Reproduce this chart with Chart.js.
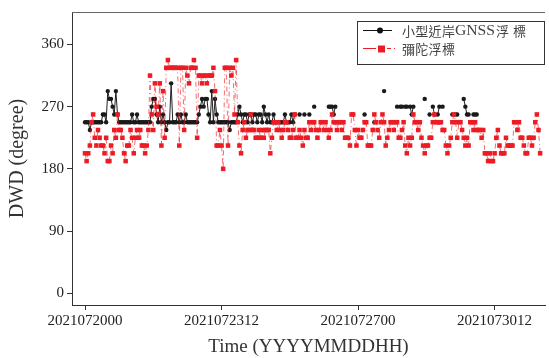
<!DOCTYPE html>
<html>
<head>
<meta charset="utf-8">
<script src="https://cdn.jsdelivr.net/npm/chart.js@4.4.0/dist/chart.umd.min.js"></script>
<style>
  html, body { margin: 0; padding: 0; background: #fff; }
  #wrap { width: 549px; height: 358px; }
</style>
</head>
<body>
<div id="wrap"><canvas id="myChart" width="549" height="358"></canvas></div>
<script>
// hours since 2021072000 -> tick labels
const tickHours = [0, 84, 168, 252];
const tickLabels = ['2021072000', '2021072312', '2021072700', '2021073012'];
const yTicks = [0, 90, 180, 270, 360];

// 小型近岸GNSS浮標, hourly wave direction (degree), null = no record
const gnssDwd = [
  247.5, 247.5, 247.5, 236.25, 247.5, 247.5, 247.5, 247.5, 247.5, 247.5, 247.5,
  258.75, 258.75, 247.5, 292.5, 281.25, 281.25, 270, 258.75, 292.5, 258.75,
  247.5, 247.5, 247.5, 247.5, 247.5, 247.5, 247.5, 247.5, 258.75, 247.5,
  247.5, 258.75, 247.5, 247.5, 247.5, 247.5, 247.5, 247.5, 247.5, 247.5,
  270, 281.25, 281.25, 258.75, 247.5, 270, 247.5, 258.75, 247.5, 236.25,
  247.5, 247.5, 303.75, 247.5, 247.5, 247.5, 258.75, 247.5, 258.75, 247.5,
  247.5, 258.75, 247.5, 247.5, 247.5, 247.5, 247.5, 247.5, 247.5, 258.75,
  270, 281.25, 270, 281.25, 281.25, 258.75, 247.5, 292.5, 247.5, 281.25,
  258.75, 247.5, 247.5, 247.5, 247.5, 247.5, 247.5, 247.5, 236.25, 247.5,
  247.5, 247.5, 247.5, 258.75, 270, 258.75, 247.5, 258.75, 258.75, 247.5,
  258.75, 258.75, 247.5, 258.75, 258.75, 247.5, 258.75, 258.75, 247.5, 270,
  258.75, 247.5, 258.75, 247.5, 247.5, 258.75, 247.5, 247.5, 247.5, 247.5,
  247.5, 247.5, 258.75, 247.5, 247.5, 247.5, 258.75, 247.5, 258.75, null,
  null, 258.75, null, null, 258.75, null, null, 258.75, null, null,
  270, null, null, null, null, null, null, null, null, 270,
  270, 270, 258.75, 270, null, null, null, null, null, null,
  null, null, null, null, null, null, null, null, null, null,
  null, 258.75, null, null, null, null, null, 247.5, null, null,
  null, null, null, 292.5, null, null, null, null, null, null,
  null, 270, null, 270, 270, null, 270, 270, null, 270,
  258.75, 270, null, null, null, null, null, null, 281.25, null,
  null, 258.75, null, 270, 258.75, null, 258.75, 270, null, 270,
  null, null, null, null, null, 258.75, null, 258.75, 258.75, null,
  null, null, 281.25, 270, 258.75, 258.75, null, null, 258.75, 258.75, 258.75
];

// 彌陀浮標, hourly wave direction (degree)
const mituoDwd = [
  202.5, 191.25, 202.5, 213.75, 247.5, 258.75, 225, 213.75, 236.25, 225, 213.75,
  213.75, 202.5, 225, 191.25, 191.25, 213.75, 202.5, 236.25, 225, 258.75,
  236.25, 236.25, 225, 202.5, 191.25, 213.75, 213.75, 236.25, 225, 202.5,
  225, 236.25, 225, 236.25, 213.75, 213.75, 202.5, 213.75, 236.25, 315,
  258.75, 236.25, 303.75, 270, 258.75, 303.75, 213.75, 292.5, 225, 326.25,
  337.5, 326.25, 326.25, 326.25, 326.25, 326.25, 326.25, 213.75, 326.25, 326.25,
  236.25, 326.25, 315, 303.75, 326.25, 326.25, 337.5, 326.25, 225, 315,
  315, 303.75, 315, 315, 303.75, 315, 315, 315, 326.25, 292.5,
  213.75, 213.75, 236.25, 213.75, 180, 326.25, 326.25, 213.75, 326.25, 315,
  326.25, 258.75, 337.5, 247.5, 213.75, 202.5, 236.25, 247.5, 225, 236.25,
  236.25, 258.75, 236.25, 236.25, 225, 225, 236.25, 225, 236.25, 225,
  236.25, 236.25, 236.25, 202.5, 225, 247.5, 247.5, 236.25, 247.5, 236.25,
  225, 236.25, 247.5, 247.5, 236.25, 225, 225, 236.25, 258.75, 225,
  225, 236.25, 225, 213.75, 236.25, 225, 225, 247.5, 236.25, 247.5,
  247.5, 236.25, 225, 236.25, 247.5, 247.5, 236.25, 247.5, 236.25, 225,
  236.25, 258.75, 247.5, 247.5, 236.25, 247.5, 247.5, 236.25, 247.5, 225,
  225, 225, 213.75, 258.75, 258.75, 236.25, 213.75, 236.25, 225, 225,
  236.25, 247.5, 247.5, 213.75, 213.75, 213.75, 236.25, 258.75, 247.5, 236.25,
  225, 247.5, 258.75, 247.5, 213.75, 225, 236.25, 247.5, 247.5, 236.25,
  247.5, 247.5, 225, 225, 236.25, 247.5, 213.75, 202.5, 225, 213.75,
  225, 258.75, 247.5, 247.5, 236.25, 247.5, 225, 213.75, 202.5, 213.75,
  213.75, 225, 225, 247.5, 258.75, 247.5, 247.5, 247.5, 247.5, 236.25,
  236.25, 213.75, 202.5, 213.75, 225, 247.5, 258.75, 247.5, 225, 247.5,
  247.5, 236.25, 225, 213.75, 225, 213.75, 247.5, 247.5, 236.25, 247.5,
  236.25, 236.25, 236.25, 225, 236.25, 202.5, 202.5, 191.25, 202.5, 191.25,
  191.25, 202.5, 225, 236.25, 213.75, 202.5, 202.5, 202.5, 225, 213.75,
  213.75, 213.75, 213.75, 247.5, 247.5, 236.25, 247.5, 225, 225, 213.75,
  202.5, 202.5, 225, 225, 213.75, 225, 247.5, 258.75, 236.25, 202.5
];

const serif = '"Liberation Serif", "Times New Roman", serif';
const cjk = '"Noto Sans CJK TC", "Noto Sans CJK SC", sans-serif';

function toPoints(arr) {
  return arr.map((v, i) => ({ x: i, y: v }));
}

// top border line + legend box drawn by hand
const framePlugin = {
  id: 'frame',
  afterDraw(chart) {
    const ctx = chart.ctx;
    const a = chart.chartArea;
    ctx.save();
    ctx.strokeStyle = '#666';
    ctx.lineWidth = 1;
    ctx.beginPath();
    ctx.moveTo(a.left, a.top + 0.5);
    ctx.lineTo(a.right, a.top + 0.5);
    ctx.stroke();

    // legend
    const bx = 357.5, by = 21.5, bw = 187, bh = 43;
    ctx.fillStyle = '#fff';
    ctx.fillRect(bx, by, bw, bh);
    ctx.strokeStyle = '#333';
    ctx.strokeRect(bx, by, bw, bh);

    const y1 = 30, y2 = 48;
    ctx.strokeStyle = '#111';
    ctx.beginPath();
    ctx.moveTo(363, y1 + 0.5);
    ctx.lineTo(392, y1 + 0.5);
    ctx.stroke();
    ctx.fillStyle = '#111';
    ctx.beginPath();
    ctx.arc(380, y1 + 0.5, 3, 0, Math.PI * 2);
    ctx.fill();

    ctx.strokeStyle = '#ed1c24';
    ctx.beginPath();
    ctx.moveTo(363, y2 + 0.5); ctx.lineTo(376, y2 + 0.5);
    ctx.moveTo(387, y2 + 0.5); ctx.lineTo(391, y2 + 0.5);
    ctx.moveTo(394, y2 + 0.5); ctx.lineTo(395, y2 + 0.5);
    ctx.stroke();
    ctx.fillStyle = '#ed1c24';
    ctx.fillRect(378, y2 - 2.5, 7, 7);

    ctx.fillStyle = '#444';
    ctx.textBaseline = 'middle';
    ctx.textAlign = 'left';
    const pitch = 13.3;
    ctx.font = '13px ' + cjk;
    let x = 402;
    for (const ch of ['小', '型', '近', '岸']) { ctx.fillText(ch, x, y1 + 1); x += pitch; }
    // GNSS squeezed into the same width as in the figure
    ctx.font = '14px ' + serif;
    const gw = ctx.measureText('GNSS').width;
    ctx.save();
    ctx.translate(455, y1 + 1);
    ctx.scale(40 / gw, 1);
    ctx.fillText('GNSS', 0, 0);
    ctx.restore();
    ctx.font = '13px ' + cjk;
    ctx.fillText('浮', 496, y1 + 1);
    ctx.fillText('標', 513, y1 + 1);
    x = 402;
    for (const ch of ['彌', '陀', '浮', '標']) { ctx.fillText(ch, x, y2 + 1); x += pitch; }
    ctx.restore();
  }
};

const ctx = document.getElementById('myChart');

const myChart = new Chart(ctx, {
  type: 'line',
  data: {
    datasets: [
      {
        label: '小型近岸GNSS浮標',
        data: toPoints(gnssDwd),
        borderColor: '#222',
        backgroundColor: '#1a1a1a',
        borderWidth: 1,
        spanGaps: false,
        pointStyle: 'circle',
        pointRadius: 2.2,
        pointBorderWidth: 0,
        order: 1
      },
      {
        label: '彌陀浮標',
        data: toPoints(mituoDwd),
        borderColor: 'rgba(237, 28, 36, 0.65)',
        backgroundColor: '#ed1c24',
        borderWidth: 1,
        borderDash: [5, 3, 1, 3],
        pointStyle: 'rect',
        pointRadius: 3.2,
        pointBorderWidth: 0,
        order: 0
      }
    ]
  },
  options: {
    responsive: false,
    animation: false,
    layout: { padding: { top: 7, right: 0, left: 0, bottom: 0 } },
    plugins: {
      legend: { display: false },
      tooltip: { enabled: false }
    },
    scales: {
      x: {
        type: 'linear',
        min: -8,
        max: 283,
        afterBuildTicks: s => { s.ticks = tickHours.map(v => ({ value: v })); },
        afterFit: s => { s.height = 53; },
        grid: { drawOnChartArea: false, drawTicks: true, tickLength: 5, color: '#333' },
        border: { display: true, color: '#333', width: 1 },
        ticks: {
          autoSkip: false,
          maxRotation: 0,
          padding: 2,
          color: '#222',
          font: { family: serif, size: 15 },
          callback: v => tickLabels[tickHours.indexOf(v)]
        },
        title: {
          display: true,
          text: 'Time (YYYYMMDDHH)',
          color: '#333',
          font: { family: serif, size: 19 },
          padding: { top: 0, bottom: 0 }
        }
      },
      y: {
        min: -17,
        max: 407,
        afterBuildTicks: s => { s.ticks = yTicks.map(v => ({ value: v })); },
        afterFit: s => { s.width = 72; },
        grid: { drawOnChartArea: false, drawTicks: true, tickLength: 5, color: '#333' },
        border: { display: true, color: '#333', width: 1 },
        ticks: {
          padding: 3,
          color: '#222',
          font: { family: serif, size: 15 }
        },
        title: {
          display: true,
          text: 'DWD (degree)',
          color: '#333',
          font: { family: serif, size: 20 },
          padding: { top: 6, bottom: 0 }
        }
      }
    }
  },
  plugins: [framePlugin]
});
</script>
</body>
</html>
